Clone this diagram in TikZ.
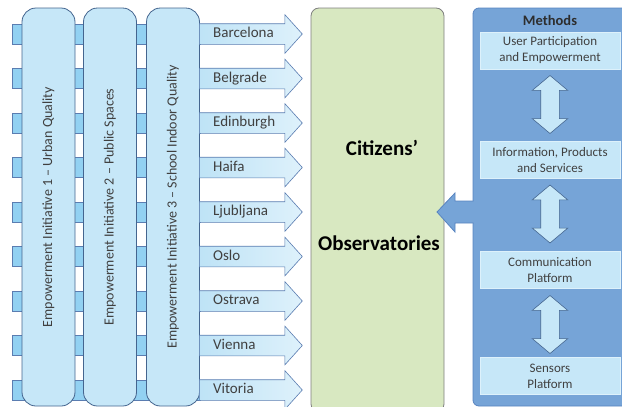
\documentclass[tikz,border=0pt]{standalone}
\usepackage{fontspec}
\setmainfont{Carlito}
\usetikzlibrary{shapes.arrows}
\definecolor{bar_blue}{RGB}{146, 209, 242}
\definecolor{bar_dark}{RGB}{91, 125, 177}
\definecolor{box_blue}{RGB}{198, 231, 248}
\definecolor{box_dark}{RGB}{68, 101, 143}
\definecolor{arr_left}{RGB}{190, 227, 246}
\definecolor{arr_right}{RGB}{222, 241, 251}
\definecolor{obs_green}{RGB}{216, 232, 193}
\definecolor{obs_gray}{RGB}{127, 127, 127}
\definecolor{meth_blue}{RGB}{118, 164, 215}
\definecolor{meth_dark}{RGB}{88, 132, 192}
\definecolor{txt_gray}{RGB}{64, 64, 64}
\tikzstyle{bar}=[fill=bar_blue,draw=bar_dark,line width=0.6pt]
\tikzstyle{ei}=[rectangle,rounded corners=14pt,fill=box_blue,draw=box_dark,
  line width=0.8pt,minimum width=398pt,minimum height=53pt,inner sep=0pt,
  rotate=90,text=txt_gray,font=\fontsize{14}{16}\selectfont]
\tikzstyle{city}=[single arrow,single arrow head extend=9pt,single arrow tip angle=96,
  left color=arr_left,right color=arr_right,draw=bar_dark,line width=0.6pt,
  minimum height=103pt,text width=66pt,align=left,inner xsep=10pt,inner ysep=2.5pt,
  text height=11pt,text depth=4pt,anchor=tail,text=txt_gray,
  font=\fontsize{15}{18}\selectfont]
\tikzstyle{obs}=[rectangle,rounded corners=8pt,fill=obs_green,draw=obs_gray,
  line width=0.8pt,minimum width=133pt,minimum height=404pt]
\tikzstyle{big}=[font=\bfseries\fontsize{21}{24}\selectfont]
\tikzstyle{meth}=[rectangle,rounded corners=6pt,fill=meth_blue,draw=meth_dark,
  line width=0.8pt,minimum width=159pt,minimum height=398pt]
\tikzstyle{mbox}=[rectangle,fill=box_blue,draw=box_blue!60!white,line width=0.5pt,
  minimum width=140pt,minimum height=37pt,inner sep=0pt,align=center,
  text=txt_gray,font=\fontsize{13}{16}\selectfont]
\tikzstyle{link}=[double arrow,shape border rotate=90,double arrow head extend=8.5pt,
  double arrow tip angle=100,minimum height=58pt,inner sep=9pt,
  fill=box_blue,draw=box_dark,line width=0.6pt]
\tikzstyle{none}=[]

\begin{document}
\begin{tikzpicture}[x=1pt,y=-1pt]
    \useasboundingbox (0, 0) rectangle (622, 407);
    \clip (0, 0) rectangle (622, 407);
    % bars behind the initiatives
    \draw [style=bar] (12, 24) rectangle (200, 44);
    \draw [style=bar] (12, 68.5) rectangle (200, 88.5);
    \draw [style=bar] (12, 113) rectangle (200, 133);
    \draw [style=bar] (12, 157.5) rectangle (200, 177.5);
    \draw [style=bar] (12, 202) rectangle (200, 222);
    \draw [style=bar] (12, 246.5) rectangle (200, 266.5);
    \draw [style=bar] (12, 291) rectangle (200, 311);
    \draw [style=bar] (12, 335.5) rectangle (200, 355.5);
    \draw [style=bar] (12, 380) rectangle (200, 400);
    % initiatives
    \node [style=ei] (0) at (48.5, 207) {Empowerment Initiative 1 – Urban Quality};
    \node [style=ei] (1) at (110, 207) {Empowerment Initiative 2 – Public Spaces};
    \node [style=ei] (2) at (173, 207) {Empowerment Initiative 3 – School Indoor Quality};
    % cities
    \node [style=city] (3) at (199, 34) {Barcelona};
    \node [style=city] (4) at (199, 78.5) {Belgrade};
    \node [style=city] (5) at (199, 123) {Edinburgh};
    \node [style=city] (6) at (199, 167.5) {Haifa};
    \node [style=city] (7) at (199, 212) {Ljubljana};
    \node [style=city] (8) at (199, 256.5) {Oslo};
    \node [style=city] (9) at (199, 301) {Ostrava};
    \node [style=city] (10) at (199, 345.5) {Vienna};
    \node [style=city] (11) at (199, 390) {Vitoria};
    % observatories
    \node [style=obs] (12) at (377.5, 210) {};
    \node [style=big] (13) at (382, 148) {Citizens’};
    \node [style=big] (14) at (379, 243) {Observatories};
    % methods
    \node [style=meth] (15) at (552.5, 207) {};
    \node [style=none,font=\bfseries\fontsize{14.5}{16}\selectfont,text=txt_gray!70!black] (16) at (550, 20) {Methods};
    \node [style=mbox] (17) at (550, 50.5) {User Participation\\and Empowerment};
    \node [style=mbox] (18) at (550, 160) {Information, Products\\and Services};
    \node [style=mbox] (19) at (550, 270) {Communication\\Platform};
    \node [style=mbox] (20) at (550, 376) {Sensors\\Platform};
    \node [style=link] (21) at (550, 104.5) {};
    \node [style=link] (22) at (550, 214) {};
    \node [style=link] (23) at (550, 324.5) {};
    % feed into the observatories
    \coordinate (24) at (437, 212);
    \fill [meth_blue] (475, 201) -- (455, 201) -- (455, 193) -- (24) -- (455, 232) -- (455, 223) -- (475, 223) -- cycle;
    \draw [meth_dark,line width=0.8pt] (473.5, 201) -- (455, 201) -- (455, 193) -- (24) -- (455, 232) -- (455, 223) -- (473.5, 223);
\end{tikzpicture}
\end{document}
